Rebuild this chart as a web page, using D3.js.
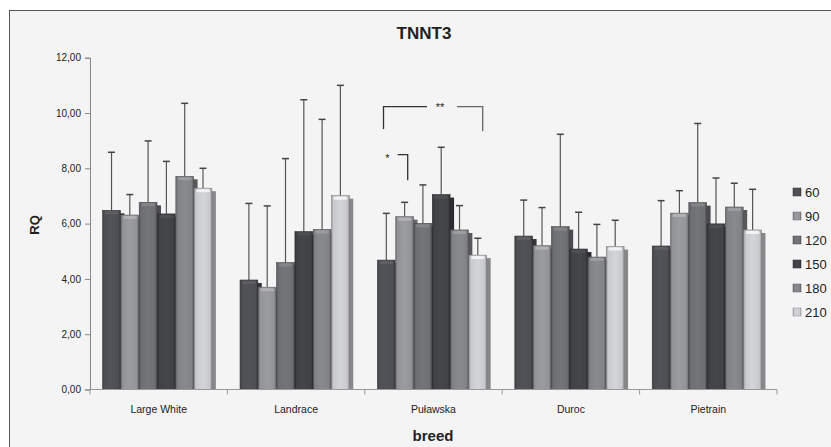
<!DOCTYPE html>
<html>
<head>
<meta charset="utf-8">
<script src="https://cdn.jsdelivr.net/npm/d3@7"></script>
<style>
  body { margin: 0; background: #fff; }
  text { font-family: "Liberation Sans Narrow", "Liberation Sans", Arial, sans-serif; fill: #222; }
</style>
</head>
<body>
<svg width="831" height="447"></svg>
<script>
var breeds = ['Large White', 'Landrace', 'Puławska', 'Duroc', 'Pietrain'];
var ages = ['60', '90', '120', '150', '180', '210'];

// mean RQ per breed, one array per age
var rq60  = [6.48, 3.96, 4.68, 5.55, 5.19];
var rq90  = [6.31, 3.70, 6.25, 5.20, 6.38];
var rq120 = [6.77, 4.59, 6.01, 5.89, 6.76];
var rq150 = [6.35, 5.71, 7.05, 5.08, 5.99];
var rq180 = [7.71, 5.79, 5.77, 4.79, 6.60];
var rq210 = [7.28, 7.01, 4.86, 5.17, 5.77];

// upper end of error bars
var up60  = [8.58, 6.73, 6.37, 6.85, 6.83];
var up90  = [7.05, 6.64, 6.77, 6.58, 7.19];
var up120 = [8.99, 8.35, 7.40, 9.23, 9.62];
var up150 = [8.25, 10.48, 8.76, 6.41, 7.65];
var up180 = [10.35, 9.77, 6.65, 5.97, 7.46];
var up210 = [8.00, 11.00, 5.47, 6.12, 7.24];

var yTicks = [0, 2, 4, 6, 8, 10, 12];

var means = [rq60, rq90, rq120, rq150, rq180, rq210];
var uppers = [up60, up90, up120, up150, up180, up210];

var colors = ['#4e4f53', '#939498', '#6e6f73', '#414246', '#828387', '#c9cacd'];

var svg = d3.select('svg');

// chart frame
svg.append('rect')
    .attr('x', 9.5).attr('y', 10.5)
    .attr('width', 840).attr('height', 450)
    .attr('fill', '#f4f4f4')
    .attr('stroke', '#555');

var x0 = d3.scaleBand().domain(breeds).range([90, 777]);
var bw = x0.bandwidth();
var x1 = d3.scaleBand().domain(ages)
    .range([bw * 0.092, bw * 0.887])
    .paddingInner(0.03);
var y = d3.scaleLinear().domain([0, 12]).range([389.5, 57.7]);

// gradients to get the bevelled 3D look
var defs = svg.append('defs');
colors.forEach(function(c, i) {
    var g = defs.append('linearGradient').attr('id', 'g' + i)
        .attr('x1', 0).attr('x2', 1).attr('y1', 0).attr('y2', 0);
    var base = d3.color(c);
    g.append('stop').attr('offset', '0%').attr('stop-color', base.darker(0.6));
    g.append('stop').attr('offset', '12%').attr('stop-color', base);
    g.append('stop').attr('offset', '50%').attr('stop-color', base.brighter(0.15));
    g.append('stop').attr('offset', '88%').attr('stop-color', base);
    g.append('stop').attr('offset', '100%').attr('stop-color', base.darker(0.8));
});

var rows = [];
breeds.forEach(function(b, bi) {
    ages.forEach(function(a, ai) {
        rows.push({breed: b, age: a, ai: ai, v: means[ai][bi], up: uppers[ai][bi]});
    });
});

var barG = svg.append('g');
var bars = barG.selectAll('.bar')
    .data(rows)
    .enter()
    .append('g')
    .attr('class', 'bar')
    .attr('transform', function(d) { return 'translate(' + (x0(d.breed) + x1(d.age)) + ',0)'; });

// error whiskers behind the bars
bars.append('line')
    .attr('x1', x1.bandwidth() / 2).attr('x2', x1.bandwidth() / 2)
    .attr('y1', function(d) { return y(d.v); })
    .attr('y2', function(d) { return y(d.up); })
    .attr('stroke', '#555').attr('stroke-width', 1.2);
bars.append('line')
    .attr('x1', x1.bandwidth() / 2 - 3.5).attr('x2', x1.bandwidth() / 2 + 3.5)
    .attr('y1', function(d) { return y(d.up); })
    .attr('y2', function(d) { return y(d.up); })
    .attr('stroke', '#444').attr('stroke-width', 1.5);

// side of the column
bars.append('rect')
    .attr('x', x1.bandwidth() - 1)
    .attr('y', function(d) { return y(d.v) + 3; })
    .attr('width', 5)
    .attr('height', function(d) { return y(0) - y(d.v) - 3; })
    .attr('fill', function(d) { return d3.color(colors[d.ai]).darker(1.1); });

// front
bars.append('rect')
    .attr('y', function(d) { return y(d.v); })
    .attr('width', x1.bandwidth())
    .attr('height', function(d) { return y(0) - y(d.v); })
    .attr('fill', function(d) { return 'url(#g' + d.ai + ')'; })
    .attr('stroke', function(d) { return d3.color(colors[d.ai]).darker(1.3); })
    .attr('stroke-width', 0.6);

// bevel at the top
bars.append('rect')
    .attr('x', 2).attr('y', function(d) { return y(d.v) + 1; })
    .attr('width', x1.bandwidth() - 4).attr('height', 3)
    .attr('rx', 1.5)
    .attr('fill', function(d) { return d3.color(colors[d.ai]).brighter(0.6); })
    .attr('opacity', 0.8);

// axes
var yAxis = d3.axisLeft(y).tickValues(yTicks).tickSize(5)
    .tickFormat(function(d) { return d3.format('.2f')(d).replace('.', ','); });
var yG = svg.append('g').attr('transform', 'translate(90,0)').call(yAxis);
yG.selectAll('path, line').attr('stroke', '#888');
yG.selectAll('text').attr('font-size', 10).attr('fill', '#333').attr('x', -9);

var xG = svg.append('g').attr('transform', 'translate(0,389.5)');
xG.append('line').attr('x1', 90).attr('x2', 777).attr('stroke', '#999');
xG.selectAll('.tk').data(breeds.concat([null]))
    .enter().append('line')
    .attr('x1', function(d, i) { return 90 + i * bw; })
    .attr('x2', function(d, i) { return 90 + i * bw; })
    .attr('y1', 0).attr('y2', 5)
    .attr('stroke', '#999');
xG.selectAll('.lbl').data(breeds)
    .enter().append('text')
    .attr('x', function(d) { return x0(d) + bw / 2; })
    .attr('y', 23)
    .attr('text-anchor', 'middle')
    .attr('font-size', 10.5)
    .text(function(d) { return d; });

// titles
svg.append('text').attr('x', 424).attr('y', 39)
    .attr('text-anchor', 'middle').attr('font-size', 17).attr('font-weight', 'bold')
    .text('TNNT3');
svg.append('text').attr('x', 433).attr('y', 441)
    .attr('text-anchor', 'middle').attr('font-size', 15).attr('font-weight', 'bold')
    .text('breed');
svg.append('text')
    .attr('transform', 'translate(39,225) rotate(-90)')
    .attr('text-anchor', 'middle').attr('font-size', 13).attr('font-weight', 'bold')
    .attr('font-family', 'Liberation Sans, Arial, sans-serif')
    .text('RQ');

// legend
var leg = svg.append('g').selectAll('g').data(ages)
    .enter().append('g')
    .attr('transform', function(d, i) { return 'translate(793,' + (192 + i * 24) + ')'; });
leg.append('rect')
    .attr('x', 0).attr('y', -4).attr('width', 8).attr('height', 8)
    .attr('fill', function(d, i) { return 'url(#g' + i + ')'; })
    .attr('stroke', function(d, i) { return d3.color(colors[i]).darker(1); })
    .attr('stroke-width', 0.5);
leg.append('text')
    .attr('x', 12).attr('y', 4.5)
    .attr('font-size', 13)
    .text(function(d) { return d; });

// significance brackets (Puławska)
var sig = svg.append('g').attr('stroke', '#333').attr('stroke-width', 1.3).attr('fill', 'none');
sig.append('path').attr('d', 'M383.5,129 V106.7 H427');
sig.append('path').attr('d', 'M457,106.7 H482.7 V131.3').attr('stroke', '#666');
sig.append('path').attr('d', 'M397.7,154.7 H407.7 V180.3');
svg.append('text').attr('x', 440).attr('y', 111).attr('text-anchor', 'middle')
    .attr('font-size', 11).text('**');
svg.append('text').attr('x', 387.5).attr('y', 162).attr('text-anchor', 'middle')
    .attr('font-size', 11).text('*');
</script>
</body>
</html>
